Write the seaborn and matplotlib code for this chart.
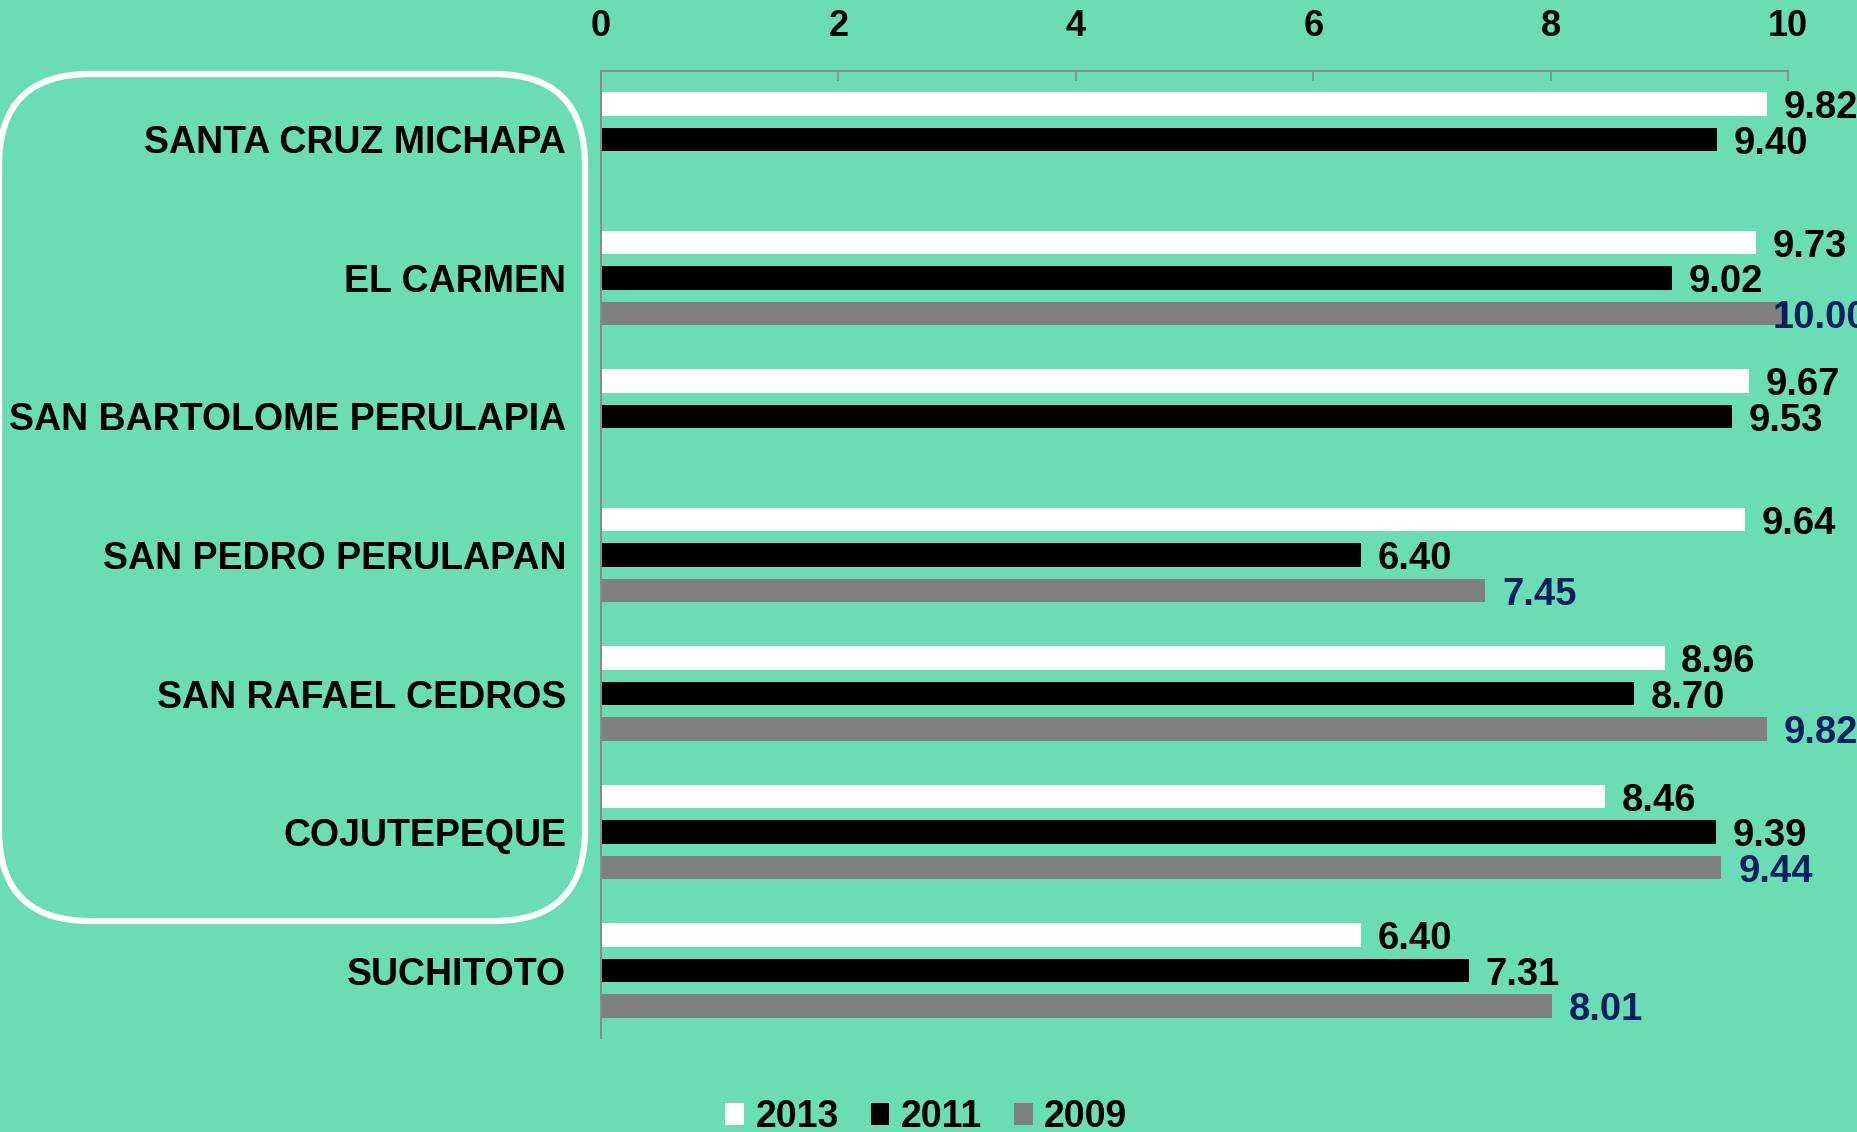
import matplotlib
matplotlib.use('Agg')
import matplotlib.pyplot as plt
import numpy as np
import pandas as pd
import seaborn as sns
from matplotlib.patches import FancyBboxPatch, Patch

# Data
municipios = ['SANTA CRUZ MICHAPA', 'EL CARMEN', 'SAN BARTOLOME PERULAPIA',
              'SAN PEDRO PERULAPAN', 'SAN RAFAEL CEDROS', 'COJUTEPEQUE', 'SUCHITOTO']
years = ['2013', '2011', '2009']
vals_2013 = [9.82, 9.73, 9.67, 9.64, 8.96, 8.46, 6.40]
vals_2011 = [9.40, 9.02, 9.53, 6.40, 8.70, 9.39, 7.31]
vals_2009 = [np.nan, 10.00, np.nan, 7.45, 9.82, 9.44, 8.01]

bar_colors = ['#FFFFFF', '#000000', '#808080']
label_colors = ['#000000', '#000000', '#002060']
bg = '#6ADDB4'

# Long format, drop the missing 2009 values
df = pd.DataFrame({'municipio': municipios * 3,
                   'year': ['2013'] * 7 + ['2011'] * 7 + ['2009'] * 7,
                   'value': vals_2013 + vals_2011 + vals_2009}).dropna()

sns.set_style('white')
plt.rcParams['font.family'] = ['Liberation Sans', 'DejaVu Sans']
plt.rcParams['font.weight'] = 'bold'
plt.rcParams['text.color'] = 'black'
plt.rcParams['xtick.labelcolor'] = 'black'
plt.rcParams['ytick.labelcolor'] = 'black'

fig = plt.figure(figsize=(18.58, 11.32), dpi=100, facecolor=bg)
ax = fig.add_axes([0.3235, 0.083, 0.9623 - 0.3235, 0.9373 - 0.083])
ax.set_facecolor(bg)

sns.barplot(data=df, y='municipio', x='value', hue='year', order=municipios,
            hue_order=years, palette=bar_colors, orient='h', width=0.768, gap=0.33,
            errorbar=None, saturation=1, linewidth=0, legend=False, ax=ax)

for cont, c in zip(ax.containers, label_colors):
    texts = ax.bar_label(cont, fmt='%.2f', padding=12, fontsize=27.5, fontweight='bold',
                         color=c, clip_on=False)
    for t, v in zip(texts, cont.datavalues):
        # labels sit a little lower than the bar centre; a full-length bar gets
        # its label pulled back over the bar end, as in the original
        t.xyann = (-11, -3) if v >= 10 else (12, -3)

ax.set_xlim(0, 10)
ax.set_ylim(6.487, -0.494)
ax.set_xticks([0, 2, 4, 6, 8, 10])
ax.xaxis.tick_top()
ax.tick_params(axis='x', direction='in', length=7.5, width=1.2, color='#8A8A8A',
               pad=19.5, labelsize=26)
ax.tick_params(axis='y', length=0, pad=25, labelsize=27)
for lab in ax.get_xticklabels() + ax.get_yticklabels():
    lab.set_fontweight('bold')
ax.set_xlabel('')
ax.set_ylabel('')

for side in ['right', 'bottom']:
    ax.spines[side].set_visible(False)
for side in ['top', 'left']:
    ax.spines[side].set_color('#8A8A8A')
    ax.spines[side].set_linewidth(1.5)

# White rounded frame around the labels (inches from the lower-left corner)
box = FancyBboxPatch((-0.01, 2.11), 5.86, 8.47,
                     boxstyle='round,pad=0,rounding_size=0.91',
                     transform=fig.dpi_scale_trans, facecolor='none',
                     edgecolor='white', linewidth=4.5)
fig.patches.append(box)

handles = [Patch(facecolor=c, edgecolor='none', label=y) for c, y in zip(bar_colors, years)]
fig.legend(handles=handles, loc='center', bbox_to_anchor=(0.4985, 0.013), ncol=3,
           frameon=False, prop={'size': 27, 'weight': 'bold'},
           handlelength=0.5, handleheight=0.5, handletextpad=0.3,
           columnspacing=0.85, borderpad=0)

fig.savefig('out.png', dpi=100, facecolor=bg)
